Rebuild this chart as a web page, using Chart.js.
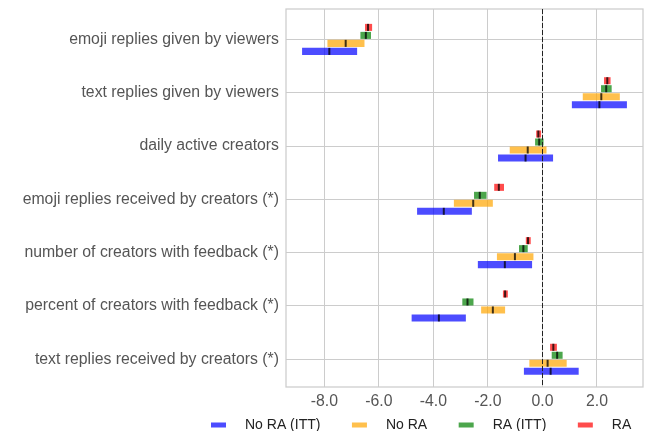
<!DOCTYPE html>
<html>
<head>
<meta charset="utf-8">
<script src="https://cdn.jsdelivr.net/npm/chart.js@4.4.1/dist/chart.umd.min.js"></script>
<style>
  html, body { margin: 0; padding: 0; background: #fff; }
  .wrap { width: 645px; height: 431px; position: relative; }
</style>
</head>
<body>
<div class="wrap"><canvas id="effectChart"></canvas></div>
<script>
// ---------- data ----------
const categories = [
  'emoji replies given by viewers',
  'text replies given by viewers',
  'daily active creators',
  'emoji replies received by creators (*)',
  'number of creators with feedback (*)',
  'percent of creators with feedback (*)',
  'text replies received by creators (*)',
];
const xTicks = [-8, -6, -4, -2, 0, 2];

// No RA (ITT)
const noRaIttLow = [-8.82, 1.08, -1.63, -4.60, -2.37, -4.80, -0.68];
const noRaIttHigh = [-6.80, 3.10, 0.39, -2.59, -0.38, -2.81, 1.33];
const noRaIttEst = [-7.82, 2.09, -0.62, -3.62, -1.38, -3.80, 0.30];

// No RA
const noRaLow = [-7.89, 1.48, -1.20, -3.25, -1.67, -2.25, -0.48];
const noRaHigh = [-6.53, 2.84, 0.15, -1.82, -0.33, -1.37, 0.89];
const noRaEst = [-7.22, 2.16, -0.54, -2.54, -1.01, -1.82, 0.19];

// RA (ITT)
const raIttLow = [-6.68, 2.15, -0.27, -2.51, -0.86, -2.94, 0.34];
const raIttHigh = [-6.29, 2.54, 0.04, -2.05, -0.54, -2.53, 0.74];
const raIttEst = [-6.48, 2.34, -0.12, -2.30, -0.70, -2.75, 0.54];

// RA
const raLow = [-6.51, 2.26, -0.23, -1.77, -0.61, -1.45, 0.28];
const raHigh = [-6.25, 2.50, -0.05, -1.41, -0.43, -1.27, 0.53];
const raEst = [-6.40, 2.38, -0.15, -1.60, -0.53, -1.37, 0.40];

// ---------- colors ----------
const blue = 'rgba(0, 0, 255, 0.7)';
const orange = 'rgba(255, 165, 0, 0.7)';
const green = 'rgba(0, 128, 0, 0.7)';
const red = 'rgba(255, 0, 0, 0.7)';
const gridColor = '#cccccc';

Chart.defaults.font.family = '"Liberation Sans", Arial, sans-serif';
Chart.defaults.font.size = 14;

// 구간 [low, high]를 막대 데이터로 변환
function toIntervals(low, high) {
  return low.map((lo, i) => ({ y: i, x: [lo, high[i]] }));
}

function makeSeries(label, color, low, high, est) {
  return {
    label: label,
    backgroundColor: color,
    borderWidth: 0,
    data: toIntervals(low, high),
    estimates: est,
    categoryPercentage: 0.6,
    barPercentage: 0.88,
  };
}

// 위에서 아래로: RA, RA (ITT), No RA, No RA (ITT)
const datasets = [
  makeSeries('RA', red, raLow, raHigh, raEst),
  makeSeries('RA (ITT)', green, raIttLow, raIttHigh, raIttEst),
  makeSeries('No RA', orange, noRaLow, noRaHigh, noRaEst),
  makeSeries('No RA (ITT)', blue, noRaIttLow, noRaIttHigh, noRaIttEst),
];

// 프레임, 0 기준선, 점추정 표시
const overlayPlugin = {
  id: 'overlay',
  beforeDatasetsDraw(chart) {
    const { ctx, chartArea: a } = chart;
    ctx.save();
    ctx.strokeStyle = gridColor;
    ctx.lineWidth = 1.25;
    ctx.strokeRect(a.left, a.top, a.right - a.left, a.bottom - a.top);
    ctx.restore();
  },
  afterDatasetsDraw(chart) {
    const { ctx, chartArea: a, scales } = chart;
    const x0 = scales.x.getPixelForValue(0);
    ctx.save();
    ctx.strokeStyle = '#222';
    ctx.lineWidth = 1;
    ctx.setLineDash([5, 2]);
    ctx.beginPath();
    ctx.moveTo(Math.round(x0) + 0.5, a.top);
    ctx.lineTo(Math.round(x0) + 0.5, a.bottom);
    ctx.stroke();
    ctx.setLineDash([]);

    ctx.fillStyle = 'rgba(0, 0, 0, 0.75)';
    chart.data.datasets.forEach((ds, i) => {
      const meta = chart.getDatasetMeta(i);
      meta.data.forEach((bar, j) => {
        const x = scales.x.getPixelForValue(ds.estimates[j]);
        ctx.fillRect(x - 1, bar.y - bar.height / 2, 2, bar.height);
      });
    });
    ctx.restore();
  },
  afterDraw(chart) {
    // 범례: No RA (ITT), No RA, RA (ITT), RA 순서
    const { ctx } = chart;
    const items = chart.data.datasets.slice().reverse();
    let x = 211;
    const y = 425;
    ctx.save();
    ctx.font = '14px "Liberation Sans", Arial, sans-serif';
    ctx.textBaseline = 'middle';
    ctx.textAlign = 'left';
    items.forEach((ds) => {
      ctx.fillStyle = ds.backgroundColor;
      ctx.fillRect(x, y - 2.5, 15, 5);
      ctx.fillStyle = '#222';
      ctx.fillText(ds.label, x + 34, y);
      x += 34 + ctx.measureText(ds.label).width + 31.5;
    });
    ctx.restore();
  },
};

const config = {
  type: 'bar',
  data: { datasets: datasets },
  options: {
    indexAxis: 'y',
    responsive: true,
    maintainAspectRatio: false,
    animation: false,
    layout: {
      padding: { top: 9, right: 2, bottom: 0, left: 0 },
    },
    plugins: {
      legend: { display: false },
      title: { display: false },
      tooltip: { enabled: false },
    },
    scales: {
      x: {
        type: 'linear',
        min: -9.41,
        max: 3.69,
        stacked: false,
        offset: false,
        afterBuildTicks: (axis) => {
          axis.ticks = xTicks.map((v) => ({ value: v }));
        },
        afterFit: (axis) => {
          axis.height = 44;
          axis.paddingLeft = 0;
          axis.paddingRight = 0;
        },
        ticks: {
          color: '#555',
          font: { size: 15.8 },
          padding: 5,
          maxRotation: 0,
          callback: (v) => v.toFixed(1),
        },
        grid: { color: gridColor, lineWidth: 1, drawTicks: false, offset: false },
        border: { display: false },
      },
      y: {
        type: 'linear',
        reverse: true,
        min: -0.57,
        max: 6.52,
        offset: false,
        afterBuildTicks: (axis) => {
          axis.ticks = categories.map((c, i) => ({ value: i }));
        },
        afterFit: (axis) => {
          axis.width = 286;
          axis.paddingTop = 0;
          axis.paddingBottom = 0;
        },
        ticks: {
          color: '#555',
          font: { size: 15.8 },
          padding: 7,
          autoSkip: false,
          callback: (v) => categories[v],
        },
        grid: { color: gridColor, lineWidth: 1, drawTicks: false, offset: false },
        border: { display: false },
      },
    },
  },
  plugins: [overlayPlugin],
};

new Chart(document.getElementById('effectChart'), config);
</script>
</body>
</html>
